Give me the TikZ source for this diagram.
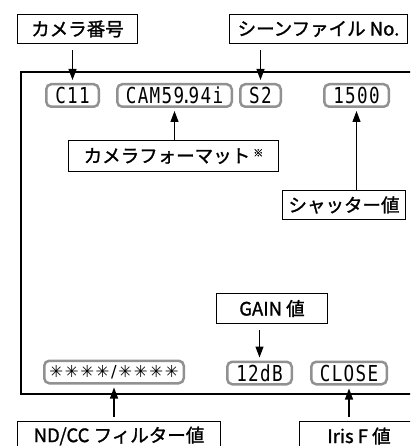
\documentclass[tikz,border=0pt]{standalone}
\usepackage{fontspec}
\usetikzlibrary{arrows.meta}
\newfontfamily\jpfont[FakeBold=1.3]{Noto Sans CJK JP}
\newfontfamily\monofont[FakeStretch=0.8,LetterSpace=6]{DejaVu Sans Mono}
\newfontfamily\symfont[LetterSpace=10]{DejaVu Sans}
\definecolor{valgray}{RGB}{145,145,145}
\begin{document}
\begin{tikzpicture}[x=1pt,y=-1pt,
  lbl/.style={draw=black, line width=1pt, fill=white, inner sep=0pt,
    font=\jpfont\fontsize{18.5}{20}\selectfont, minimum height=29pt},
  val/.style={draw=valgray, line width=2.5pt, rounded corners=5pt, inner sep=0pt,
    minimum height=22.5pt, font=\monofont\fontsize{22}{23}\selectfont},
  arr/.style={line width=1.2pt, -{Triangle[length=11pt,width=8pt]}},
  screen/.style={draw=black, line width=1.3pt}]
\useasboundingbox (0,0) rectangle (410,446);
\clip (0,0) rectangle (410,446);
% screen frame
\draw[screen] (21,72) rectangle (430,394);
% value boxes
\node[val, minimum width=52.5pt]  (c11)   at (72.5,95.5)  {C11};
\node[val, minimum width=114.5pt] (cam)   at (174.5,95.5) {CAM59{\kern-3pt}.{\kern-3pt}94i};
\node[val, minimum width=40.5pt]  (s2)    at (260.5,95.5) {S2};
\node[val, minimum width=64.5pt]  (shut)  at (356.5,95.5) {1500};
\node[val, minimum width=139.5pt] (nd)    at (114,372)    {\symfont\fontsize{16.5}{17}\selectfont ✳✳✳✳/✳✳✳✳};
\node[val, minimum width=64.5pt]  (gainv) at (259.5,373)  {12dB};
\node[val, minimum width=75.5pt]  (iris)  at (349,373)    {CLOSE};
% label boxes
\node[lbl, minimum width=120pt] (lcam)   at (77.5,29)   {カメラ番号};
\node[lbl, minimum width=178pt] (lscene) at (318.5,29)  {シーンファイル No.};
\node[lbl, minimum width=210pt, minimum height=31pt] (lfmt) at (173.5,156)
  {カメラフォーマット\,\raisebox{6pt}{\fontsize{10}{10}\selectfont ※}};
\node[lbl, minimum width=123pt] (lshut)  at (344,205)   {シャッター値};
\node[lbl, minimum width=111pt, minimum height=30pt] (lgain) at (272,308.5) {GAIN 値};
\node[lbl, minimum width=203pt, minimum height=30pt] (lnd)   at (119,436) {ND/CC フィルター値};
\node[lbl, minimum width=119pt, minimum height=30pt] (liris) at (359,436) {Iris F 値};
% arrows
\draw[arr, shorten <=6pt, shorten >=3pt] (c11.north |- lcam.south) -- (c11.north);
\draw[arr, shorten <=6pt, shorten >=3pt] (s2.north |- lscene.south) -- (s2.north);
\draw[arr, shorten >=3pt] (cam.south |- lfmt.north) -- (cam.south);
\draw[arr, shorten >=3pt] (shut.south |- lshut.north) -- (shut.south);
\draw[arr, shorten <=6pt, shorten >=3pt] (gainv.north |- lgain.south) -- (gainv.north);
\draw[arr, shorten <=4pt, shorten >=3pt] (nd.south |- lnd.north) -- (nd.south);
\draw[arr, shorten <=4pt, shorten >=3pt] (iris.south |- liris.north) -- (iris.south);
\end{tikzpicture}
\end{document}
